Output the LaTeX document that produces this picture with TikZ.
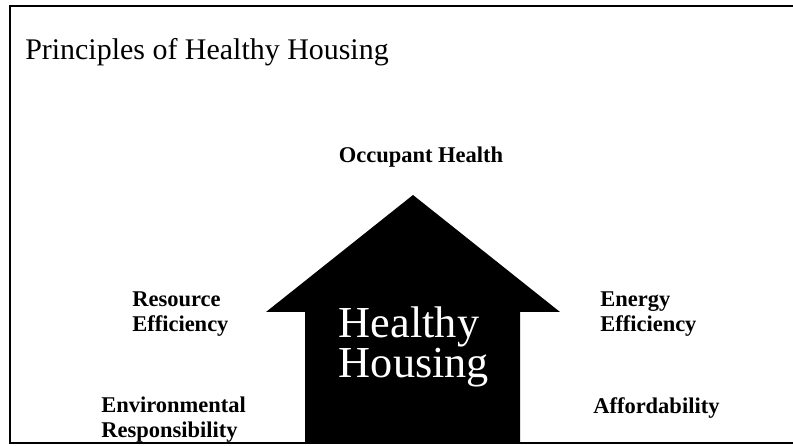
\documentclass[tikz,border=0pt]{standalone}
\usepackage{fontspec}
\setmainfont{Liberation Serif}
\usepackage{tikz}

\begin{document}
\begin{tikzpicture}[
    heading/.style={font=\fontsize{21.3}{24}\selectfont, inner sep=0pt},
    principle/.style={font=\fontsize{16}{17.7}\selectfont\bfseries, align=left, inner sep=0pt},
    housetext/.style={font=\fontsize{31.5}{28.4}\selectfont, text=white, align=left, inner sep=0pt}]
    \useasboundingbox (0,0) rectangle (19.825,11.15);

    % Frame
    \draw[line width=2.1pt] (19.825,11.0) -- (0.25,11.0) -- (0.25,0.075) -- (19.825,0.075);

    % House
    \fill (10.325,6.275) -- (14.0,3.35) -- (13.0,3.35) -- (13.0,0.075)
        -- (7.625,0.075) -- (7.625,3.35) -- (6.65,3.35) -- cycle;
    \node[housetext] (house) at (10.35,2.47) {Healthy\\Housing};

    % Title
    \node[heading, anchor=base west] (title) at (0.625,9.65) {Principles of Healthy Housing};

    % Principles
    \node[principle, anchor=base] (health) at (10.525,7.075) {Occupant Health};
    \node[principle, anchor=west] (resource) at (3.3,3.29) {Resource\\Efficiency};
    \node[principle, anchor=west] (energy) at (15.0,3.29) {Energy\\Efficiency};
    \node[principle, anchor=west] (environment) at (2.525,0.67) {Environmental\\Responsibility};
    \node[principle, anchor=base west] (afford) at (14.825,0.8) {Affordability};
\end{tikzpicture}
\end{document}
